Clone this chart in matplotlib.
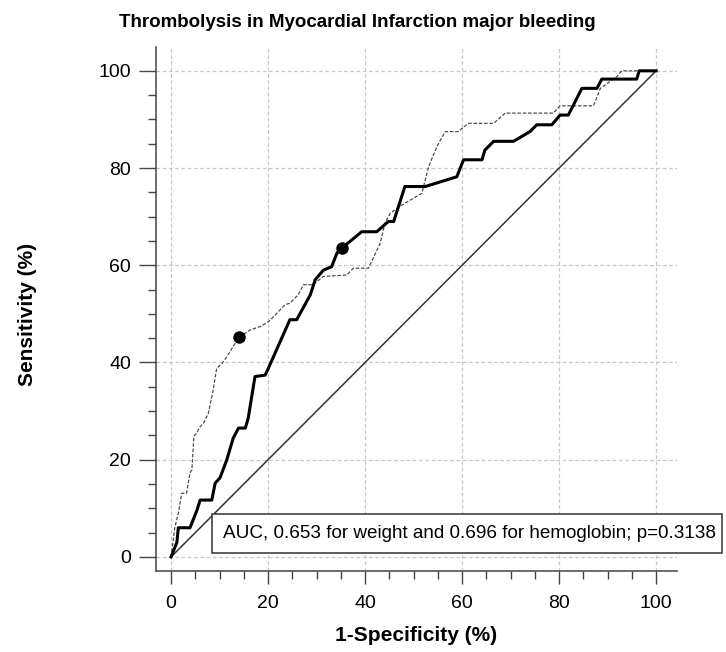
import matplotlib
matplotlib.use('Agg')
import matplotlib.pyplot as plt
from matplotlib.patches import Rectangle
from matplotlib.ticker import MultipleLocator

plt.rcParams['font.family'] = ['Liberation Sans', 'DejaVu Sans']

# ROC curve for weight (thick solid line)
weight_fpr = [0, 1.2, 1.5, 3.9, 5.3, 6.0, 8.4, 9.1, 10.1, 11.5, 12.8, 13.9, 15.3, 15.9,
              17.3, 19.4, 20.1, 24.5, 25.9, 28.7, 29.7, 31.4, 33.1, 34.2, 35.3, 39.3,
              42.4, 44.8, 45.9, 48.2, 52.4, 58.9, 60.3, 64.1, 64.7, 66.5, 70.6, 74.0,
              75.4, 78.5, 80.2, 81.9, 84.7, 87.8, 88.8, 96.0, 96.5, 100]
weight_tpr = [0, 3.0, 6.0, 6.0, 9.5, 11.7, 11.7, 15.2, 16.3, 20.0, 24.4, 26.5, 26.5, 28.5,
              37.1, 37.4, 38.9, 48.8, 48.8, 53.9, 57.0, 59.0, 59.7, 62.5, 63.6, 66.9,
              66.9, 69.0, 69.0, 76.2, 76.2, 78.2, 81.7, 81.7, 83.7, 85.5, 85.5, 87.5,
              88.9, 88.9, 90.9, 90.9, 96.4, 96.4, 98.3, 98.3, 100, 100]

# ROC curve for hemoglobin (thin dashed line)
hb_fpr = [0, 0.8, 1.5, 2.2, 3.2, 3.9, 4.3, 4.7, 5.3, 6.0, 6.7, 7.7, 8.7, 9.4, 10.5, 11.5,
          12.8, 14.1, 16.3, 18.4, 20.1, 21.8, 23.5, 24.5, 26.2, 27.3, 29.3, 31.4, 36.2,
          37.6, 40.7, 43.1, 44.1, 45.2, 47.6, 51.7, 53.1, 54.8, 56.5, 59.2, 61.3, 66.5,
          68.9, 78.8, 80.2, 87.1, 88.5, 91.9, 92.9, 100]
hb_tpr = [0, 6.2, 9.0, 13.1, 13.1, 17.3, 17.9, 24.8, 25.5, 26.8, 27.5, 29.6, 34.4, 38.8,
          39.8, 41.2, 43.3, 45.2, 46.7, 47.4, 48.4, 50.1, 51.9, 52.2, 53.9, 56.0, 56.0,
          57.7, 58.0, 59.4, 59.4, 64.5, 68.7, 70.7, 72.4, 74.8, 80.3, 84.4, 87.5, 87.5,
          89.2, 89.2, 91.3, 91.3, 92.8, 92.8, 96.4, 98.8, 100, 100]

# optimal cut-off points
cut_fpr = [14.1, 35.3]
cut_tpr = [45.2, 63.6]

ticks = [0, 20, 40, 60, 80, 100]
auc_text = "AUC, 0.653 for weight and 0.696 for hemoglobin; p=0.3138"

fig = plt.figure(figsize=(7.26, 6.52), dpi=100)
ax = fig.add_axes([0.2149, 0.1242, 0.7176, 0.8037])

ax.plot([0, 100], [0, 100], color='#333333', linewidth=1.1, zorder=2)
ax.plot(hb_fpr, hb_tpr, color='#444444', linewidth=0.85, linestyle=(0, (3, 1.5)), zorder=3)
ax.plot(weight_fpr, weight_tpr, color='black', linewidth=2.2, zorder=4)
ax.plot(cut_fpr, cut_tpr, 'o', color='black', markersize=8, zorder=5)

ax.set_xlim(-3.1, 104.3)
ax.set_ylim(-2.9, 104.9)
ax.set_xticks(ticks)
ax.set_yticks(ticks)
ax.xaxis.set_minor_locator(MultipleLocator(5))
ax.yaxis.set_minor_locator(MultipleLocator(5))
ax.grid(True, color='#c8c8c8', linestyle=(0, (3, 2)), linewidth=0.9)
ax.set_axisbelow(True)

for side in ['top', 'right']:
    ax.spines[side].set_visible(False)
for side in ['left', 'bottom']:
    ax.spines[side].set_color('#444444')
    ax.spines[side].set_linewidth(1.1)

ax.tick_params(axis='y', which='major', length=12, width=1.0, color='#444444', labelsize=14, pad=6)
ax.tick_params(axis='x', which='major', length=9, width=1.0, color='#444444', labelsize=14, pad=8)
ax.tick_params(which='minor', length=6, width=1.0, color='#444444')

ax.set_xlabel('1-Specificity (%)', fontsize=15, fontweight='bold')
ax.set_ylabel('Sensitivity (%)', fontsize=15, fontweight='bold')
ax.xaxis.set_label_coords(0.5, -0.105)
ax.yaxis.set_label_coords(-0.228, 0.49)
fig.text(0.492, 0.966, 'Thrombolysis in Myocardial Infarction major bleeding',
         fontsize=13.5, fontweight='bold', ha='center', va='center')

box = Rectangle((8.4, 0.8), 105.2, 8.1, facecolor='white', edgecolor='#333333',
                linewidth=1.1, clip_on=False, zorder=6)
ax.add_patch(box)
ax.text(10.7, 4.85, auc_text, fontsize=13.6, va='center', ha='left', zorder=7, clip_on=False)

fig.savefig('out.png', dpi=100)
